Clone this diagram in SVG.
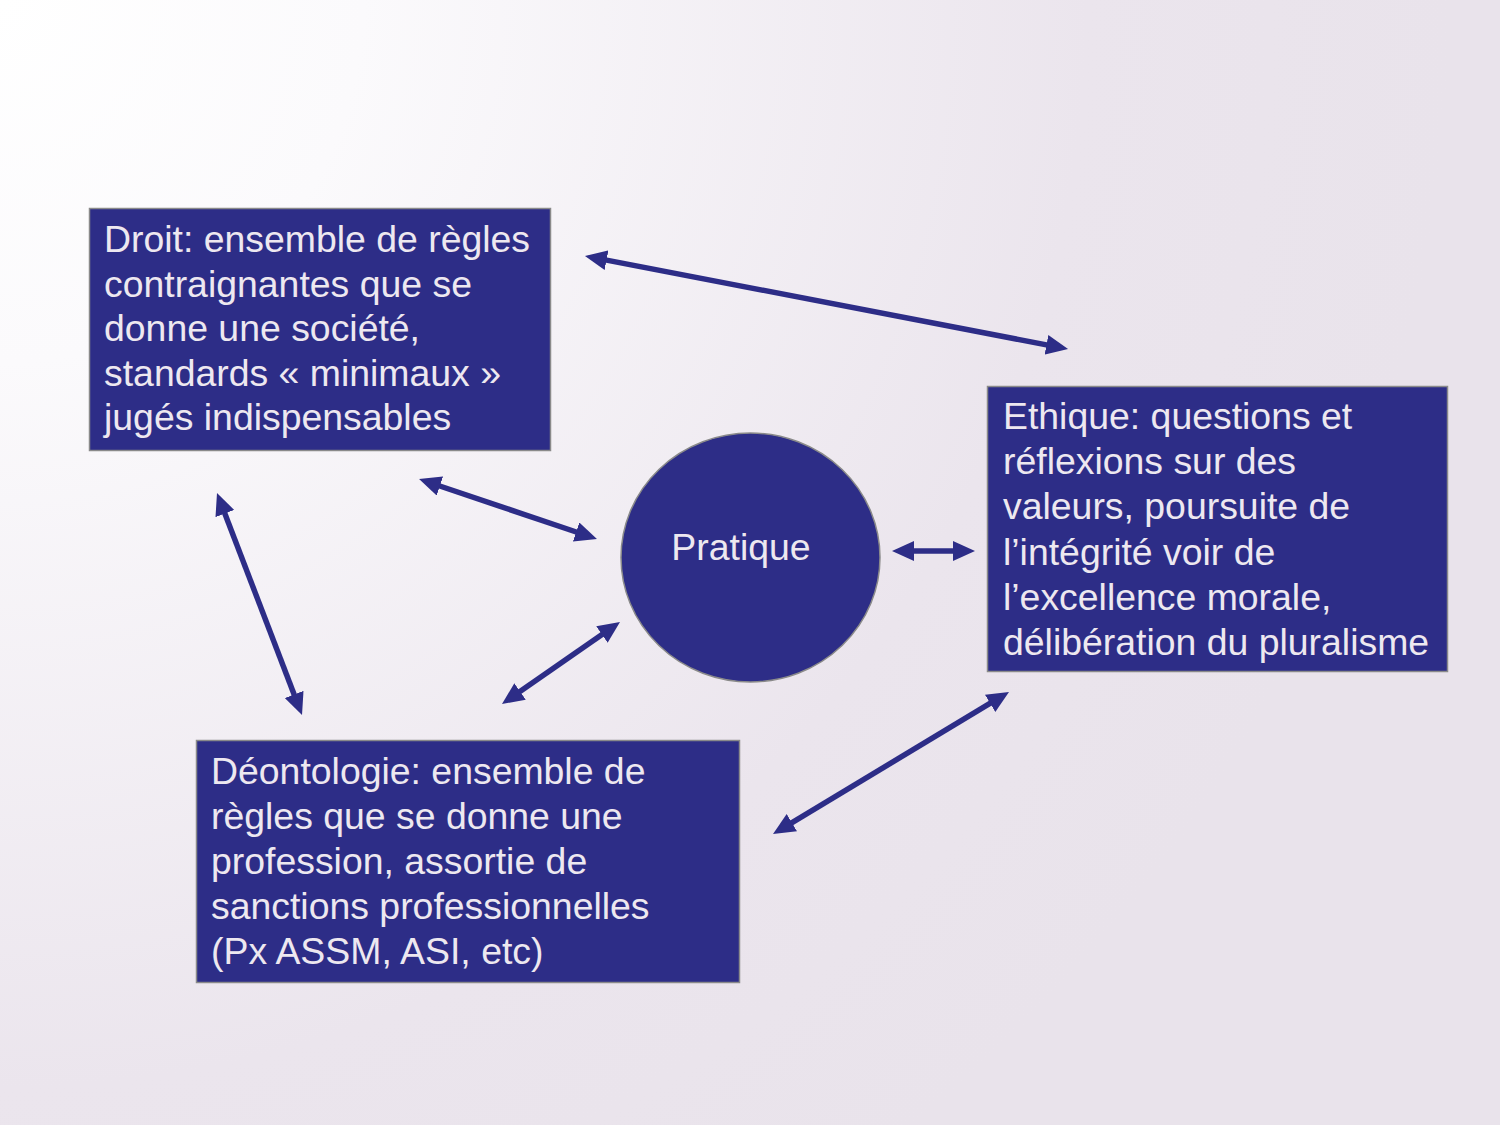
<svg xmlns="http://www.w3.org/2000/svg" width="1500" height="1125" viewBox="0 0 1500 1125">
<style>
.box{fill:#2d2d87;stroke:#8a8a8a;stroke-width:1.5}
.t{font-family:"Liberation Sans",Arial,sans-serif;font-size:37.4px;fill:#ede8f0}
.c{fill:none;stroke:#2d2d87;stroke-width:5.5;marker-start:url(#ah);marker-end:url(#ah)}
</style>
<defs>
<radialGradient id="bg" cx="0" cy="0" r="1450" gradientUnits="userSpaceOnUse">
<stop offset="0" stop-color="#ffffff"/>
<stop offset="0.25" stop-color="#fbfafc"/>
<stop offset="0.75" stop-color="#ebe5ed"/>
<stop offset="1" stop-color="#e9e3eb"/>
</radialGradient>
<marker id="ah" markerUnits="userSpaceOnUse" markerWidth="22" markerHeight="20" viewBox="0 0 22 20" refX="8" refY="10" orient="auto-start-reverse">
<path d="M0,0 L22,10 L0,20 z" fill="#2d2d87"/>
</marker>
</defs>
<rect width="1500" height="1125" fill="url(#bg)"/>
<g id="connectors">
<line class="c" x1="598.7" y1="258.6" x2="1054.3" y2="346.4"/>
<line class="c" x1="432.3" y1="483.5" x2="583.7" y2="534.5"/>
<line class="c" x1="222" y1="506.1" x2="297" y2="701.9"/>
<line class="c" x1="513.5" y1="696" x2="608.5" y2="630"/>
<line class="c" x1="785" y1="826.8" x2="997" y2="699.2"/>
<line class="c" x1="906" y1="551" x2="961" y2="551"/>
</g>
<g id="droit">
<rect class="box" x="89.5" y="208.5" width="461" height="242"/>
<text class="t">
<tspan x="104" y="252">Droit: ensemble de règles</tspan>
<tspan x="104" y="296.5">contraignantes que se</tspan>
<tspan x="104" y="341">donne une société,</tspan>
<tspan x="104" y="385.5">standards « minimaux »</tspan>
<tspan x="104" y="430">jugés indispensables</tspan>
</text>
</g>
<g id="pratique">
<ellipse class="box" cx="750.5" cy="557.5" rx="129.5" ry="124.5"/>
<text class="t" x="741" y="560" text-anchor="middle">Pratique</text>
</g>
<g id="ethique">
<rect class="box" x="987.5" y="386.5" width="460" height="285"/>
<text class="t">
<tspan x="1003" y="429">Ethique: questions et</tspan>
<tspan x="1003" y="474.2">réflexions sur des</tspan>
<tspan x="1003" y="519.4">valeurs, poursuite de</tspan>
<tspan x="1003" y="564.6">l’intégrité voir de</tspan>
<tspan x="1003" y="609.8">l’excellence morale,</tspan>
<tspan x="1003" y="655">délibération du pluralisme</tspan>
</text>
</g>
<g id="deontologie">
<rect class="box" x="196.5" y="740.5" width="543" height="242"/>
<text class="t">
<tspan x="211" y="784">Déontologie: ensemble de</tspan>
<tspan x="211" y="829">règles que se donne une</tspan>
<tspan x="211" y="874">profession, assortie de</tspan>
<tspan x="211" y="919">sanctions professionnelles</tspan>
<tspan x="211" y="964">(Px ASSM, ASI, etc)</tspan>
</text>
</g>
</svg>
